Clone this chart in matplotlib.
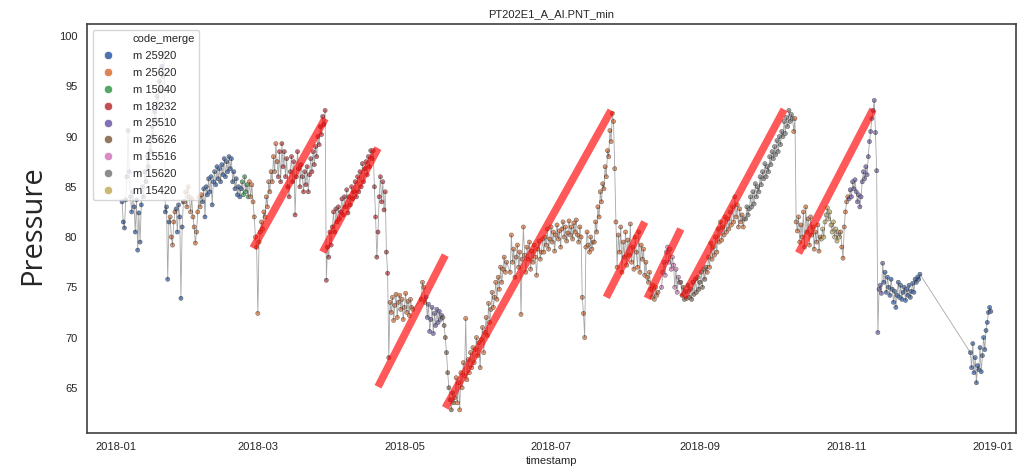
import matplotlib.dates as mdates
import matplotlib.pyplot as plt
import pandas as pd
import seaborn as sns
from matplotlib.lines import Line2D

sns.set_style("white")
plt.rcParams['font.family'] = ['Liberation Sans', 'DejaVu Sans']

# Hue order of the operating codes
codes = ['m 25920', 'm 25620', 'm 15040', 'm 18232', 'm 25510',
         'm 25626', 'm 15516', 'm 15620', 'm 15420']

# Pressure readings, one every 12 hours, per run of the same code
jan_blue_a = [83.5, 81.5, 80.9, 83.7, 86.0, 90.6, 86.5, 84.0, 82.5, 84.5, 83.0, 80.5,
              83.7, 78.7, 82.4, 79.5, 83.2, 85.0, 84.0, 86.5, 85.5, 88.0, 87.0, 89.5,
              88.5, 91.0, 90.0, 92.5, 91.5, 94.0, 93.0, 95.5, 94.5, 97.0, 96.0, 98.3]
jan_blue_b = [82.5, 83.0, 75.8, 81.5]
jan_orange = [82.0, 80.0, 79.2, 81.5, 82.5]
jan_blue_c = [82.8, 80.5, 83.2, 82.0, 73.9, 81.0, 83.5]
feb_orange = [83.5, 84.5, 83.0, 85.0, 84.0, 82.5, 83.8, 82.0, 81.0, 79.4, 80.5, 82.5,
              84.0, 83.0, 84.2]
feb_blue = [83.5, 84.8, 82.0, 85.0, 84.2, 85.8, 84.5, 86.0, 83.2, 85.5, 86.5, 85.2,
            87.0, 85.8, 86.8, 85.5, 87.2, 86.2, 87.8, 86.0, 87.5, 86.5, 88.0, 86.8,
            87.8, 85.5, 86.5, 84.8, 85.8, 84.2, 85.0, 84.0, 84.8]
feb_green = [85.5, 84.2, 86.0, 84.5, 85.2, 84.0]
mar_orange = [85.5, 84.0, 85.2, 83.5, 82.0, 80.0, 79.0, 72.4, 79.5, 80.5, 81.5, 80.8,
              82.5, 82.0, 84.0, 83.0, 85.5, 84.5, 86.5, 85.5, 88.0, 86.5, 89.3, 87.5]
mar_red = [86.0, 88.5, 85.5, 89.3, 87.0, 88.5, 86.0, 87.8, 85.0, 84.0, 86.5, 88.0,
           85.5, 87.5, 82.2, 86.0, 88.5, 86.8, 85.0, 87.2, 86.0, 84.5, 86.5, 85.2,
           87.0, 84.5, 86.2, 87.8, 86.5, 88.5, 87.2, 89.0, 88.0, 90.0, 89.2, 91.0,
           90.2, 92.0, 91.2, 92.6]
apr_red_a = [75.7, 79.0, 78.0, 80.5, 79.2, 81.0, 82.5, 80.5, 82.8, 81.5, 83.0, 81.8,
             82.5, 83.8, 82.2, 84.0, 83.0, 84.7, 82.4, 84.0, 83.2, 85.0, 83.8, 84.5,
             85.5, 84.0, 86.0, 84.5, 86.5, 85.0, 87.3, 85.5, 86.8, 87.5, 86.2, 88.0,
             87.0, 88.6, 87.8, 88.6]
apr_red_b = [85.0, 82.0, 78.0, 80.5, 84.0, 86.0, 83.5, 85.5, 82.7, 84.5, 78.5, 76.4, 68.0]
may_orange_a = [73.5, 72.5, 74.0, 71.7, 73.2, 74.3, 72.0, 73.5, 74.2, 72.8, 73.8, 71.8,
                73.0, 74.4, 72.5, 73.6, 72.2, 73.8, 73.0, 72.8]
may_orange_b = [73.8, 75.5, 75.0, 73.5]
may_purple = [74.0, 72.0, 73.3, 70.6, 71.8, 73.0, 70.4, 72.4, 71.2, 72.8, 71.5, 72.6,
              71.8, 72.2]
may_brown = [72.0, 71.2, 70.0, 68.5, 66.5, 65.0, 63.8, 62.8, 64.5, 63.5]
jun_orange_a = [64.0, 66.0, 63.5, 65.5, 62.8, 66.5, 65.0, 67.5, 66.2, 71.9, 65.8, 67.8,
                66.5, 68.5, 67.0, 69.0, 67.5, 68.8, 70.0, 68.2, 69.5, 67.0, 69.8, 71.0,
                68.5, 70.5, 72.0, 70.2, 73.4, 71.5, 72.8, 74.5, 73.0, 74.0, 75.5, 73.8,
                76.0, 74.8, 77.0, 75.5, 76.8, 78.0, 76.5, 77.5]
jun_orange_b = [76.5, 80.2, 77.5, 78.8, 76.0, 78.0, 79.2, 77.0, 78.5, 72.3, 77.8, 81.0,
                78.2, 76.5, 79.0, 77.8, 79.5, 76.8, 78.6, 77.5, 79.2, 78.0, 76.2, 78.8,
                79.6, 77.8, 78.5, 79.8]
jul_orange_a = [78.5, 80.0, 79.2, 80.8, 78.8, 79.8, 81.0, 79.5, 80.5, 78.6, 80.2, 81.2,
                79.8, 80.6, 79.0, 80.8, 81.5, 80.0, 81.0, 79.6, 80.4, 81.6, 80.2, 81.0,
                79.8, 81.4, 80.5, 81.7, 80.2, 79.5, 81.0, 80.0, 74.0, 72.4, 70.0, 79.0,
                80.5, 79.2, 78.5, 80.0, 78.8, 79.5]
jul_orange_b = [79.5, 81.5, 80.5, 83.0, 82.0, 84.5, 83.5, 85.3, 84.8, 87.0, 86.0, 88.6,
                88.0, 90.6, 89.5, 92.3, 91.5, 86.8]
aug_orange = [81.5, 77.0, 80.2, 78.5, 81.0, 76.5, 79.5, 78.0, 80.5, 77.2, 79.7, 78.2,
              81.3, 77.5, 79.0, 76.8, 80.0, 78.5, 77.0, 80.5, 76.5, 79.2, 77.8, 78.8,
              76.2, 77.5, 76.0, 75.5, 76.5, 74.8, 74.0, 75.2, 73.8, 75.0, 74.2, 74.5]
aug_pink = [75.0, 76.5, 77.5, 76.2, 78.5, 79.0, 77.5, 78.8, 76.8, 78.0, 77.2, 75.0,
            76.8, 74.5, 76.0, 75.5]
aug_brown = [75.5, 74.2, 75.0, 73.8, 74.6, 73.9, 75.2, 74.0, 74.8, 73.8, 75.5, 74.3,
             75.8, 74.5, 76.0, 74.8, 75.5, 76.5, 75.0, 76.8, 75.8, 77.0]
sep_orange = [76.5, 78.0, 77.0, 79.4, 77.8, 79.0, 78.2, 80.0, 78.5, 80.8, 79.5, 81.5,
              79.7, 81.0, 80.2, 82.0, 80.5, 81.8, 80.8, 82.5, 81.2, 83.0, 81.5, 84.0,
              82.0, 83.2, 81.0, 82.8, 81.5, 82.2, 81.0, 81.8]
sep_grey = [81.8, 83.0, 82.2, 82.8, 84.0, 83.0, 84.5, 83.3, 85.3, 84.0, 85.0, 84.5,
            86.0, 85.2, 86.5, 85.8, 87.3, 86.0, 87.0, 86.5, 88.0, 87.2, 88.5, 87.8,
            89.0, 88.2, 89.6, 88.5, 90.0, 89.2, 90.5, 90.0, 91.5, 90.3, 91.9, 91.0,
            92.6, 91.5, 92.2, 91.8]
oct_orange_a = [90.5, 91.8]
oct_orange_b = [81.5, 80.6, 82.0, 79.5, 81.2, 80.0, 82.5, 79.0, 83.0, 80.5, 81.8, 79.2,
                82.0, 80.2, 81.0, 78.8, 80.5, 79.5, 81.2, 78.6, 80.0]
oct_olive = [79.8, 80.8, 80.0, 81.5, 82.2, 82.9, 81.8, 82.5, 81.2, 80.5, 81.5, 80.0,
             80.8, 79.6, 80.5, 80.0]
oct_orange_c = [80.5, 79.0, 77.9, 81.0, 82.5, 83.5, 84.0]
nov_purple_a = [83.8, 84.7, 84.0, 85.5, 84.8, 85.7, 84.5, 83.5, 84.2, 83.0, 84.0, 85.5,
                86.5, 85.8, 87.0, 86.2, 88.0, 89.5, 90.5, 91.8, 92.6, 93.6, 90.4, 86.6]
nov_purple_b = [70.5, 74.8, 75.2, 74.4, 77.4]
nov_blue = [75.5, 76.5, 74.5, 76.0, 75.0, 74.2, 75.8, 74.8, 73.5, 74.6, 73.0, 74.2,
            75.5, 74.0, 75.2, 73.8, 74.5, 75.0, 73.7, 74.8, 74.2, 75.2, 74.0, 74.6,
            75.4, 74.5, 75.8, 75.5, 76.0, 75.8, 76.3]
dec_blue = [68.5, 67.0, 69.4, 66.5, 68.0, 65.5, 67.2, 66.8, 69.0, 66.6, 68.2, 70.0,
            68.8, 70.7, 71.5, 72.5, 73.0, 72.6]

runs = [
    ('m 25920', '2018-01-03 12:00', jan_blue_a),
    ('m 25920', '2018-01-21 12:00', jan_blue_b),
    ('m 25620', '2018-01-23 12:00', jan_orange),
    ('m 25920', '2018-01-26 00:00', jan_blue_c),
    ('m 25620', '2018-01-29 12:00', feb_orange),
    ('m 25920', '2018-02-06 00:00', feb_blue),
    ('m 15040', '2018-02-22 12:00', feb_green),
    ('m 25620', '2018-02-25 12:00', mar_orange),
    ('m 18232', '2018-03-09 12:00', mar_red),
    ('m 18232', '2018-03-29 12:00', apr_red_a),
    ('m 18232', '2018-04-18 12:00', apr_red_b),
    ('m 25620', '2018-04-25 00:00', may_orange_a),
    ('m 25620', '2018-05-08 00:00', may_orange_b),
    ('m 25510', '2018-05-10 00:00', may_purple),
    ('m 25626', '2018-05-17 00:00', may_brown),
    ('m 25620', '2018-05-22 00:00', jun_orange_a),
    ('m 25620', '2018-06-14 00:00', jun_orange_b),
    ('m 25620', '2018-06-28 00:00', jul_orange_a),
    ('m 25620', '2018-07-19 00:00', jul_orange_b),
    ('m 25620', '2018-07-28 00:00', aug_orange),
    ('m 15516', '2018-08-16 00:00', aug_pink),
    ('m 25626', '2018-08-24 00:00', aug_brown),
    ('m 25620', '2018-09-04 00:00', sep_orange),
    ('m 15620', '2018-09-20 00:00', sep_grey),
    ('m 25620', '2018-10-10 00:00', oct_orange_a),
    ('m 25620', '2018-10-11 00:00', oct_orange_b),
    ('m 15420', '2018-10-21 12:00', oct_olive),
    ('m 25620', '2018-10-29 12:00', oct_orange_c),
    ('m 25510', '2018-11-02 00:00', nov_purple_a),
    ('m 25510', '2018-11-14 00:00', nov_purple_b),
    ('m 25920', '2018-11-16 12:00', nov_blue),
    ('m 25920', '2018-12-22 12:00', dec_blue),
]

# Hand-drawn trend strokes over the fill-up periods
trend_start = ['2018-02-27', '2018-03-28', '2018-04-20', '2018-05-18',
               '2018-07-24', '2018-08-10', '2018-08-25', '2018-10-12']
trend_end = ['2018-03-29', '2018-04-20', '2018-05-18', '2018-07-26',
             '2018-08-09', '2018-08-24', '2018-10-06', '2018-11-12']
trend_low = [78.9, 78.5, 65.1, 63.0, 74.0, 73.9, 74.0, 78.4]
trend_high = [91.8, 88.85, 78.2, 92.6, 81.5, 80.8, 92.7, 92.7]

frames = []
for code, start, vals in runs:
    ts = pd.date_range(start, periods=len(vals), freq='12h')
    frames.append(pd.DataFrame({'timestamp': ts, 'value': vals, 'code_merge': code}))
df = pd.concat(frames).sort_values('timestamp').reset_index(drop=True)

palette = dict(zip(codes, sns.color_palette('deep', len(codes))))

fig = plt.figure(figsize=(10.31, 4.69), dpi=100)
ax = fig.add_axes([0.0844, 0.0768, 0.9011, 0.872])

sns.scatterplot(data=df, x='timestamp', y='value', hue='code_merge',
                hue_order=codes, palette=palette, s=9, linewidth=0.35,
                edgecolor='0.25', alpha=0.8, ax=ax, legend=False, zorder=2)
ax.plot(df['timestamp'], df['value'], color='k', lw=0.6, alpha=0.35, zorder=3)

for t0, t1, lo, hi in zip(trend_start, trend_end, trend_low, trend_high):
    ax.plot(pd.to_datetime([t0, t1]), [lo, hi], color='red', lw=5.5,
            alpha=0.65, solid_capstyle='butt', zorder=4)

ax.set_xlim(pd.Timestamp('2017-12-19 22:00'), pd.Timestamp('2019-01-10 12:00'))
ax.set_ylim(60.5, 101.2)
ax.set_yticks([65, 70, 75, 80, 85, 90, 95, 100])
ax.xaxis.set_major_locator(mdates.MonthLocator(bymonth=[1, 3, 5, 7, 9, 11]))
ax.xaxis.set_major_formatter(mdates.DateFormatter('%Y-%m'))
ax.tick_params(axis='x', labelsize=8, pad=3)
ax.tick_params(axis='y', labelsize=8, pad=3.5)
for s in ax.spines.values():
    s.set_color('0.25')
    s.set_linewidth(1.2)

ax.set_title('PT202E1_A_AI.PNT_min', fontsize=8, pad=5)
ax.set_xlabel('timestamp', fontsize=8, labelpad=3)
ax.set_ylabel('')

# Legend in the old seaborn layout, hue name as the first row
handles = [Line2D([], [], linestyle='none')]
handles += [Line2D([], [], marker='o', linestyle='none', markersize=6,
                   markerfacecolor=palette[c], markeredgecolor='white',
                   markeredgewidth=0.5) for c in codes]
ax.legend(handles, ['code_merge'] + codes, loc='upper left', fontsize=8,
          frameon=True, framealpha=0.8, handletextpad=1.2, labelspacing=0.62,
          borderaxespad=0.5)

fig.text(0.032, 0.52, 'Pressure', rotation=90, ha='center', va='center',
         fontsize=21, family='Open Sans')

plt.savefig('out.png', dpi=100)
